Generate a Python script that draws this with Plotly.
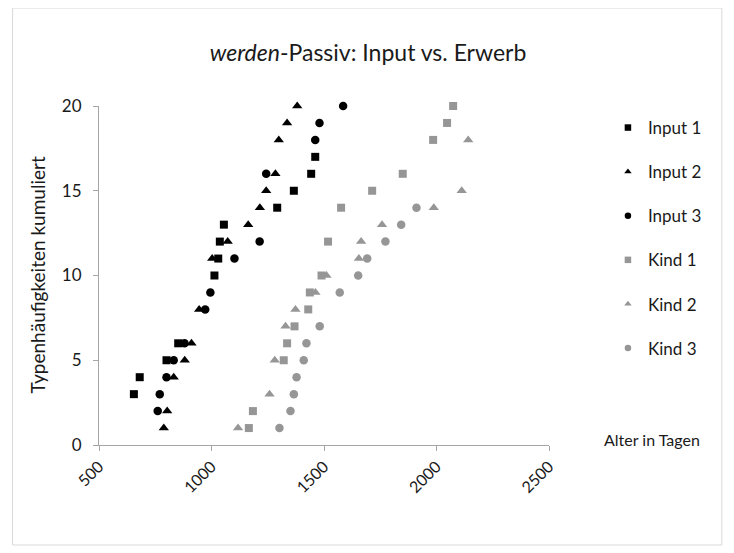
import plotly.graph_objects as go

# ---- data ----
input1_x = [655, 681, 800, 852, 1013, 1030, 1037, 1055, 1292, 1366, 1443, 1461]
input1_y = [3, 4, 5, 6, 10, 11, 12, 13, 14, 15, 16, 17]

input2_x = [788, 803, 832, 881, 911, 945, 1003, 1072, 1163, 1215, 1243, 1284, 1299, 1336, 1381]
input2_y = [1, 2, 4, 5, 6, 8, 11, 12, 13, 14, 15, 16, 18, 19, 20]

input3_x = [761, 770, 800, 832, 880, 972, 995, 1102, 1214, 1243, 1461, 1480, 1585]
input3_y = [2, 3, 4, 5, 6, 8, 9, 11, 12, 16, 18, 19, 20]

kind1_x = [1166, 1184, 1321, 1336, 1369, 1430, 1437, 1489, 1518, 1576, 1714, 1850, 1985, 2047, 2074]
kind1_y = [1, 2, 5, 6, 7, 8, 9, 10, 12, 14, 15, 16, 18, 19, 20]

kind2_x = [1118, 1258, 1281, 1329, 1373, 1462, 1511, 1655, 1665, 1758, 1988, 2112, 2141]
kind2_y = [1, 3, 5, 7, 8, 9, 10, 11, 12, 13, 14, 15, 18]

kind3_x = [1302, 1351, 1366, 1378, 1410, 1422, 1481, 1570, 1652, 1692, 1773, 1843, 1911]
kind3_y = [1, 2, 3, 4, 5, 6, 7, 9, 10, 11, 12, 13, 14]

x_ticks = [500, 1000, 1500, 2000, 2500]
y_ticks = [0, 5, 10, 15, 20]

BLACK = "#000000"
GRAY = "#969696"
FONT = "Lato"
TXT = "#1a1a1a"

series = [
    ("Input 1", input1_x, input1_y, "square", BLACK, 8),
    ("Input 2", input2_x, input2_y, "triangle-up", BLACK, 9),
    ("Input 3", input3_x, input3_y, "circle", BLACK, 8.5),
    ("Kind 1", kind1_x, kind1_y, "square", GRAY, 8),
    ("Kind 2", kind2_x, kind2_y, "triangle-up", GRAY, 9),
    ("Kind 3", kind3_x, kind3_y, "circle", GRAY, 8.5),
]

fig = go.Figure()
for name, xs, ys, sym, col, sz in series:
    fig.add_trace(go.Scatter(
        x=xs, y=ys, mode="markers", name=name, legendgroup=name,
        showlegend=False, cliponaxis=False,
        marker=dict(symbol=sym, color=col, size=sz, line=dict(width=0)),
    ))
    # legend entry with the small legend glyph
    fig.add_trace(go.Scatter(
        x=[None], y=[None], mode="markers", name=name, legendgroup=name,
        showlegend=True,
        marker=dict(symbol=sym, color=col, size=6.5, line=dict(width=0)),
    ))

W, H = 734, 553
OFF = 8  # page body margin offset in the screenshot
L, T = 98.5 - OFF, 106 - OFF
PR, PB = 549 - OFF, 445 - OFF
R, B = W - PR, H - PB
pw, ph = PR - L, PB - T


def px_to_paper_x(px):
    return (px - OFF - L) / pw


def py_to_paper_y(py):
    return (PB - (py - OFF)) / ph


fig.update_layout(
    width=W, height=H,
    margin=dict(l=L, r=R, t=T, b=B),
    paper_bgcolor="white", plot_bgcolor="white",
    font=dict(family=FONT, size=16, color=TXT),
    title=dict(
        text="<i>werden</i>-Passiv: Input vs. Erwerb",
        x=(368 - OFF) / W, xanchor="center",
        y=1 - (53 - OFF) / H, yanchor="middle",
        font=dict(family=FONT, size=23, color=TXT),
    ),
    showlegend=True,
    legend=dict(
        x=px_to_paper_x(608), xanchor="left",
        y=py_to_paper_y(110), yanchor="top",
        font=dict(family=FONT, size=17, color=TXT),
        tracegroupgap=19,
        bgcolor="rgba(0,0,0,0)",
    ),
    xaxis=dict(
        range=[500, 2500], tickvals=x_ticks, ticktext=[str(v) for v in x_ticks],
        tickangle=-45, showgrid=False, zeroline=False,
        showline=True, linecolor="#a6a6a6", linewidth=1,
        ticks="outside", ticklen=5, tickcolor="#a6a6a6",
        tickfont=dict(family=FONT, size=16, color=TXT),
    ),
    yaxis=dict(
        range=[0, 20], tickvals=y_ticks, ticktext=[str(v) for v in y_ticks],
        showgrid=False, zeroline=False,
        showline=True, linecolor="#a6a6a6", linewidth=1,
        ticks="outside", ticklen=5, tickcolor="#a6a6a6",
        ticklabelstandoff=8,
        tickfont=dict(family=FONT, size=17, color=TXT),
    ),
    annotations=[
        dict(text="Typenhäufigkeiten kumuliert", textangle=-90,
             xref="paper", yref="paper",
             x=px_to_paper_x(36), y=py_to_paper_y(275),
             xanchor="center", yanchor="middle", showarrow=False,
             font=dict(family=FONT, size=19, color=TXT)),
        dict(text="Alter in Tagen",
             xref="paper", yref="paper",
             x=px_to_paper_x(602), y=py_to_paper_y(439),
             xanchor="left", yanchor="middle", showarrow=False,
             font=dict(family=FONT, size=16, color=TXT)),
    ],
    shapes=[
        dict(type="rect", xref="paper", yref="paper",
             x0=px_to_paper_x(12), x1=px_to_paper_x(722),
             y0=py_to_paper_y(545), y1=py_to_paper_y(8),
             line=dict(color="#d9d9d9", width=1), fillcolor="rgba(0,0,0,0)",
             layer="below"),
    ],
)

fig.write_html("out.html")
